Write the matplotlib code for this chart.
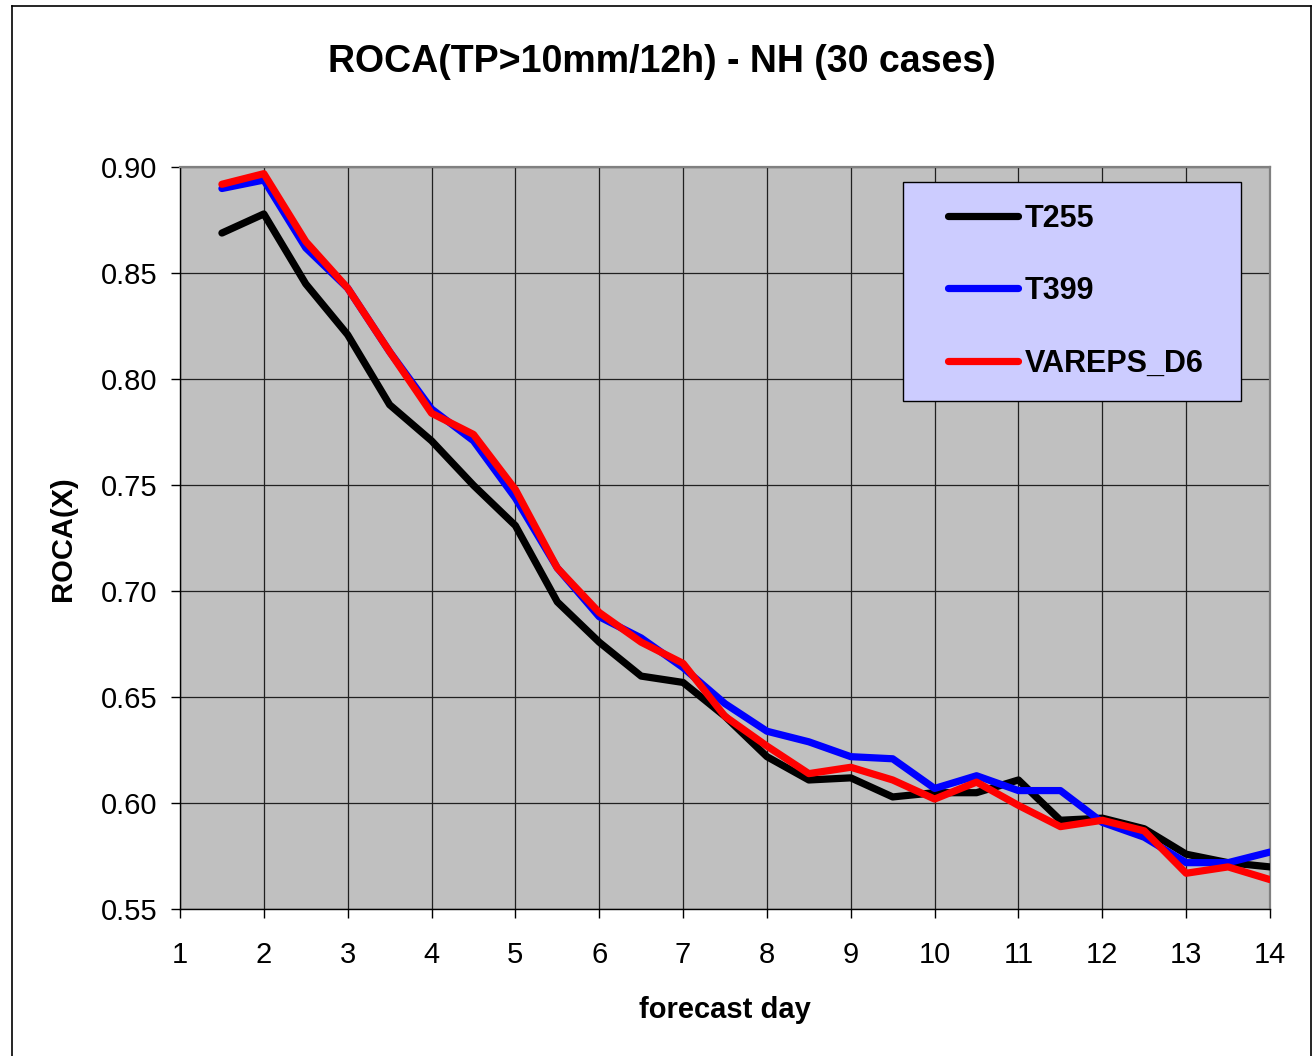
import matplotlib
matplotlib.use("Agg")
import matplotlib.pyplot as plt
from matplotlib.patches import Rectangle
from matplotlib.lines import Line2D

plt.rcParams['font.family'] = ['Liberation Sans', 'DejaVu Sans']

days = [1.5, 2, 2.5, 3, 3.5, 4, 4.5, 5, 5.5, 6, 6.5, 7, 7.5, 8, 8.5, 9, 9.5,
        10, 10.5, 11, 11.5, 12, 12.5, 13, 13.5, 14]
t255 = [0.869, 0.878, 0.845, 0.821, 0.788, 0.771, 0.750, 0.731, 0.695, 0.676,
        0.660, 0.657, 0.641, 0.622, 0.611, 0.612, 0.603, 0.605, 0.605, 0.611,
        0.592, 0.593, 0.588, 0.576, 0.572, 0.570]
t399 = [0.890, 0.894, 0.862, 0.843, 0.813, 0.786, 0.771, 0.744, 0.711, 0.688,
        0.678, 0.664, 0.647, 0.634, 0.629, 0.622, 0.621, 0.607, 0.613, 0.606,
        0.606, 0.591, 0.584, 0.572, 0.572, 0.577]
vareps = [0.892, 0.897, 0.865, 0.843, 0.813, 0.784, 0.774, 0.748, 0.711, 0.690,
          0.676, 0.666, 0.641, 0.627, 0.614, 0.617, 0.611, 0.602, 0.610, 0.599,
          0.589, 0.592, 0.587, 0.567, 0.570, 0.564]
series_names = ['T255', 'T399', 'VAREPS_D6']
series_colors = ['#000000', '#0000FF', '#FF0000']
x_ticks = list(range(1, 15))
y_ticks = [0.55, 0.60, 0.65, 0.70, 0.75, 0.80, 0.85, 0.90]

W, H = 1314, 1056
fig = plt.figure(figsize=(W / 100, H / 100), dpi=100)
fig.patch.set_facecolor('white')

# figure border
fig.add_artist(Line2D([12 / W, 12 / W], [0, 1 - 6 / H], transform=fig.transFigure, color='black', lw=1.2))
fig.add_artist(Line2D([12 / W, 1311 / W], [1 - 6 / H, 1 - 6 / H], transform=fig.transFigure, color='black', lw=1.2))
fig.add_artist(Line2D([1311 / W, 1311 / W], [0, 1 - 6 / H], transform=fig.transFigure, color='black', lw=1.2))

left, right = 180 / W, 1270 / W
bottom, top = 1 - 909.3 / H, 1 - 167.3 / H
ax = fig.add_axes([left, bottom, right - left, top - bottom])
ax.set_facecolor('#C0C0C0')

for vals, name, col in zip([t255, t399, vareps], series_names, series_colors):
    ax.plot(days, vals, color=col, lw=5.2, label=name,
            solid_capstyle='round', solid_joinstyle='round', zorder=3)

ax.set_xlim(1, 14)
ax.set_ylim(0.55, 0.90)
ax.set_xticks(x_ticks)
ax.set_xticklabels([str(v) for v in x_ticks])
ax.set_yticks(y_ticks)
ax.set_yticklabels([f'{v:.2f}' for v in y_ticks])
ax.grid(True, color='#202020', lw=0.9, zorder=1)
ax.set_axisbelow(True)
ax.tick_params(axis='both', direction='out', length=6.5, width=1, labelsize=21, color='black')
ax.tick_params(axis='x', pad=16)
ax.tick_params(axis='y', pad=10)

for s in ['top', 'right']:
    ax.spines[s].set_color('#808080')
    ax.spines[s].set_linewidth(1.6)
for s in ['left', 'bottom']:
    ax.spines[s].set_color('black')
    ax.spines[s].set_linewidth(1.0)

ax.set_xlabel('forecast day', fontsize=21, fontweight='bold', va='center')
ax.xaxis.set_label_coords(0.5, (909.3 - 1010) / 742)
ax.set_ylabel('ROCA(X)', fontsize=21, fontweight='bold', va='center', ha='center')
ax.yaxis.set_label_coords((63 - 180) / 1090, 0.5)

fig.text(662 / W, 1 - 62 / H, 'ROCA(TP>10mm/12h) - NH (30 cases)', fontsize=27,
         fontweight='bold', ha='center', va='center')

# legend box
ax.add_patch(Rectangle((903 / W, 1 - 401 / H), (1241 - 903) / W, (401 - 182) / H,
                       transform=fig.transFigure, facecolor='#CCCCFF',
                       edgecolor='black', lw=1.0, zorder=5, clip_on=False))
leg = ax.legend(loc='upper left', bbox_to_anchor=(948 / W, 1 - 204 / H),
                bbox_transform=fig.transFigure, frameon=False, borderpad=0,
                borderaxespad=0, handlelength=2.3, handletextpad=0.2,
                labelspacing=1.38, prop={'size': 22, 'weight': 'bold'})
leg.set_zorder(6)
for line in leg.get_lines():
    line.set_linewidth(5.2)
    line.set_solid_capstyle('round')

fig.savefig('out.png', dpi=100)
